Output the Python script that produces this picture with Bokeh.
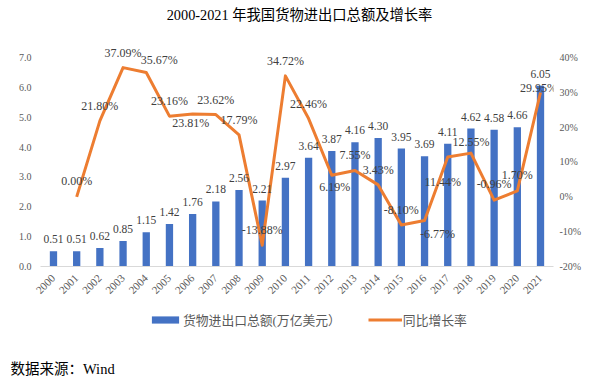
import numpy as np
from bokeh.plotting import figure
from bokeh.layouts import column
from bokeh.models import (ColumnDataSource, Range1d, LinearAxis, FixedTicker,
                          PrintfTickFormatter, LabelSet, Label, Legend, LegendItem)
from bokeh.embed import file_html
from bokeh.resources import INLINE

# ---- data ----
years = ["2000", "2001", "2002", "2003", "2004", "2005", "2006", "2007", "2008", "2009", "2010",
         "2011", "2012", "2013", "2014", "2015", "2016", "2017", "2018", "2019", "2020", "2021"]
trade = [0.51, 0.51, 0.62, 0.85, 1.15, 1.42, 1.76, 2.18, 2.56, 2.21, 2.97,
         3.64, 3.87, 4.16, 4.30, 3.95, 3.69, 4.11, 4.62, 4.58, 4.66, 6.05]
growth = [None, 0.00, 21.80, 37.09, 35.67, 23.16, 23.81, 23.62, 17.79, -13.88, 34.72,
          22.46, 6.19, 7.55, 3.43, -8.10, -6.77, 11.44, 12.55, -0.96, 1.70, 29.95]
left_ticks = [0, 1, 2, 3, 4, 5, 6, 7]
right_ticks = [-20, -10, 0, 10, 20, 30, 40]

title_text = "2000-2021 年我国货物进出口总额及增长率"
bar_name = "货物进出口总额(万亿美元）"
line_name = "同比增长率"
source_text = "数据来源：Wind"

# label placement offsets (pixels) for growth labels
g_dx = [0, 0, 0, 0, 13, 0, -2, 0, 0, 0, 0, 0, 3, 0, 0, 0, 13, -5, 0, 0, 0, -2]
g_dy = [0, 16, 15, 15, 13, 15, -9, 15, 15, 15, 15, 15, -12, 16, 15, 15, -14, -25, 11, 16, 16, 4]

SERIF = "Liberation Serif, Noto Sans CJK SC"
BLUE = "#4472C4"
ORANGE = "#ED7D31"
GREY = "#595959"
DARK = "#404040"

xs = list(range(len(years)))
gvals = [np.nan if v is None else v for v in growth]

W = 609
H1 = 302
H2 = 77

# main chart: frame spans y 0..266 px, axes tick 0..7 and -20%..40% over the lower 209 px
p = figure(width=W, height=H1, output_backend="svg", toolbar_location=None, title=None,
           x_range=Range1d(-0.56, 21.56), y_range=Range1d(0, 8.909),
           min_border_left=40, min_border_right=56, min_border_top=0, min_border_bottom=H1 - 266)
p.outline_line_color = None
p.grid.visible = False
p.extra_y_ranges = {"pct": Range1d(-20, 56.36)}


def style_axis(ax, size, standoff):
    ax.major_tick_line_color = None
    ax.minor_tick_line_color = None
    ax.major_tick_out = 0
    ax.major_tick_in = 0
    ax.minor_tick_out = 0
    ax.minor_tick_in = 0
    ax.major_label_text_font = SERIF
    ax.major_label_text_font_size = size
    ax.major_label_text_color = GREY
    ax.major_label_standoff = standoff


yl = p.yaxis[0]
yl.ticker = FixedTicker(ticks=left_ticks)
yl.formatter = PrintfTickFormatter(format="%.1f")
yl.axis_line_color = None
style_axis(yl, "10px", 9)

yr = LinearAxis(y_range_name="pct", ticker=FixedTicker(ticks=right_ticks),
                formatter=PrintfTickFormatter(format="%d%%"))
yr.axis_line_color = None
style_axis(yr, "10px", 6)
p.add_layout(yr, "right")

xa = p.xaxis[0]
xa.ticker = FixedTicker(ticks=xs)
xa.major_label_overrides = {i: y for i, y in zip(xs, years)}
xa.major_label_orientation = np.pi / 4
xa.axis_line_color = "#D9D9D9"
style_axis(xa, "11px", 10)

bsrc = ColumnDataSource(dict(x=xs, top=trade, text=[f"{v:.2f}" for v in trade]))
bars = p.vbar(x="x", top="top", width=0.315, source=bsrc, fill_color=BLUE, line_color=None)

lsrc = ColumnDataSource(dict(x=xs, y=gvals))
line = p.line(x="x", y="y", source=lsrc, y_range_name="pct", line_color=ORANGE,
              line_width=3, line_join="round")

p.add_layout(LabelSet(x="x", y="top", text="text", source=bsrc, y_offset=12,
                      text_align="center", text_baseline="middle", text_font=SERIF,
                      text_font_size="11.5px", text_color=DARK))

idx = [i for i, v in enumerate(growth) if v is not None]
gsrc = ColumnDataSource(dict(x=[xs[i] for i in idx], y=[growth[i] for i in idx],
                             text=[f"{growth[i]:.2f}%" for i in idx],
                             dx=[g_dx[i] for i in idx], dy=[g_dy[i] for i in idx]))
p.add_layout(LabelSet(x="x", y="y", text="text", source=gsrc, y_range_name="pct",
                      x_offset="dx", y_offset="dy",
                      text_align="center", text_baseline="middle", text_font=SERIF,
                      text_font_size="12px", text_color=DARK))

p.add_layout(Label(x=10.61, y=8.407, text=title_text, text_align="center",
                   text_baseline="middle", text_font=SERIF, text_font_size="14.3px",
                   text_color="#000000"))

# legend + source note panel (pixel space)
q = figure(width=W, height=H2, output_backend="svg", toolbar_location=None, title=None,
           x_range=Range1d(0, W), y_range=Range1d(0, H2),
           x_axis_type=None, y_axis_type=None,
           min_border_left=0, min_border_right=0, min_border_top=0, min_border_bottom=0)
q.outline_line_color = None
q.grid.visible = False
for fig in (p, q):
    if "frame_align" in fig.properties():
        fig.frame_align = False

# proxies that carry the series styles into the legend (not drawn on this panel)
pbar = q.vbar(x="x", top="top", width=0.315, source=bsrc, fill_color=BLUE, line_color=None,
              visible=False)
pline = q.line(x="x", y="y", source=lsrc, line_color=ORANGE, line_width=3, visible=False)

legend = Legend(items=[LegendItem(label=bar_name, renderers=[pbar]),
                       LegendItem(label=line_name, renderers=[pline])],
                orientation="horizontal", location=(148, 50), padding=0, spacing=27,
                label_standoff=1, glyph_width=34, glyph_height=9, margin=0,
                label_text_font=SERIF, label_text_font_size="12.8px",
                label_text_color=GREY, border_line_color=None, background_fill_alpha=0)
q.add_layout(legend)

q.add_layout(Label(x=10, y=H2 - (368 - H1), text=source_text, text_align="left",
                   text_baseline="middle", text_font=SERIF, text_font_size="14.5px",
                   text_color="#000000"))

page = column(p, q, spacing=0)
open("out.html", "w").write(file_html(page, INLINE))
